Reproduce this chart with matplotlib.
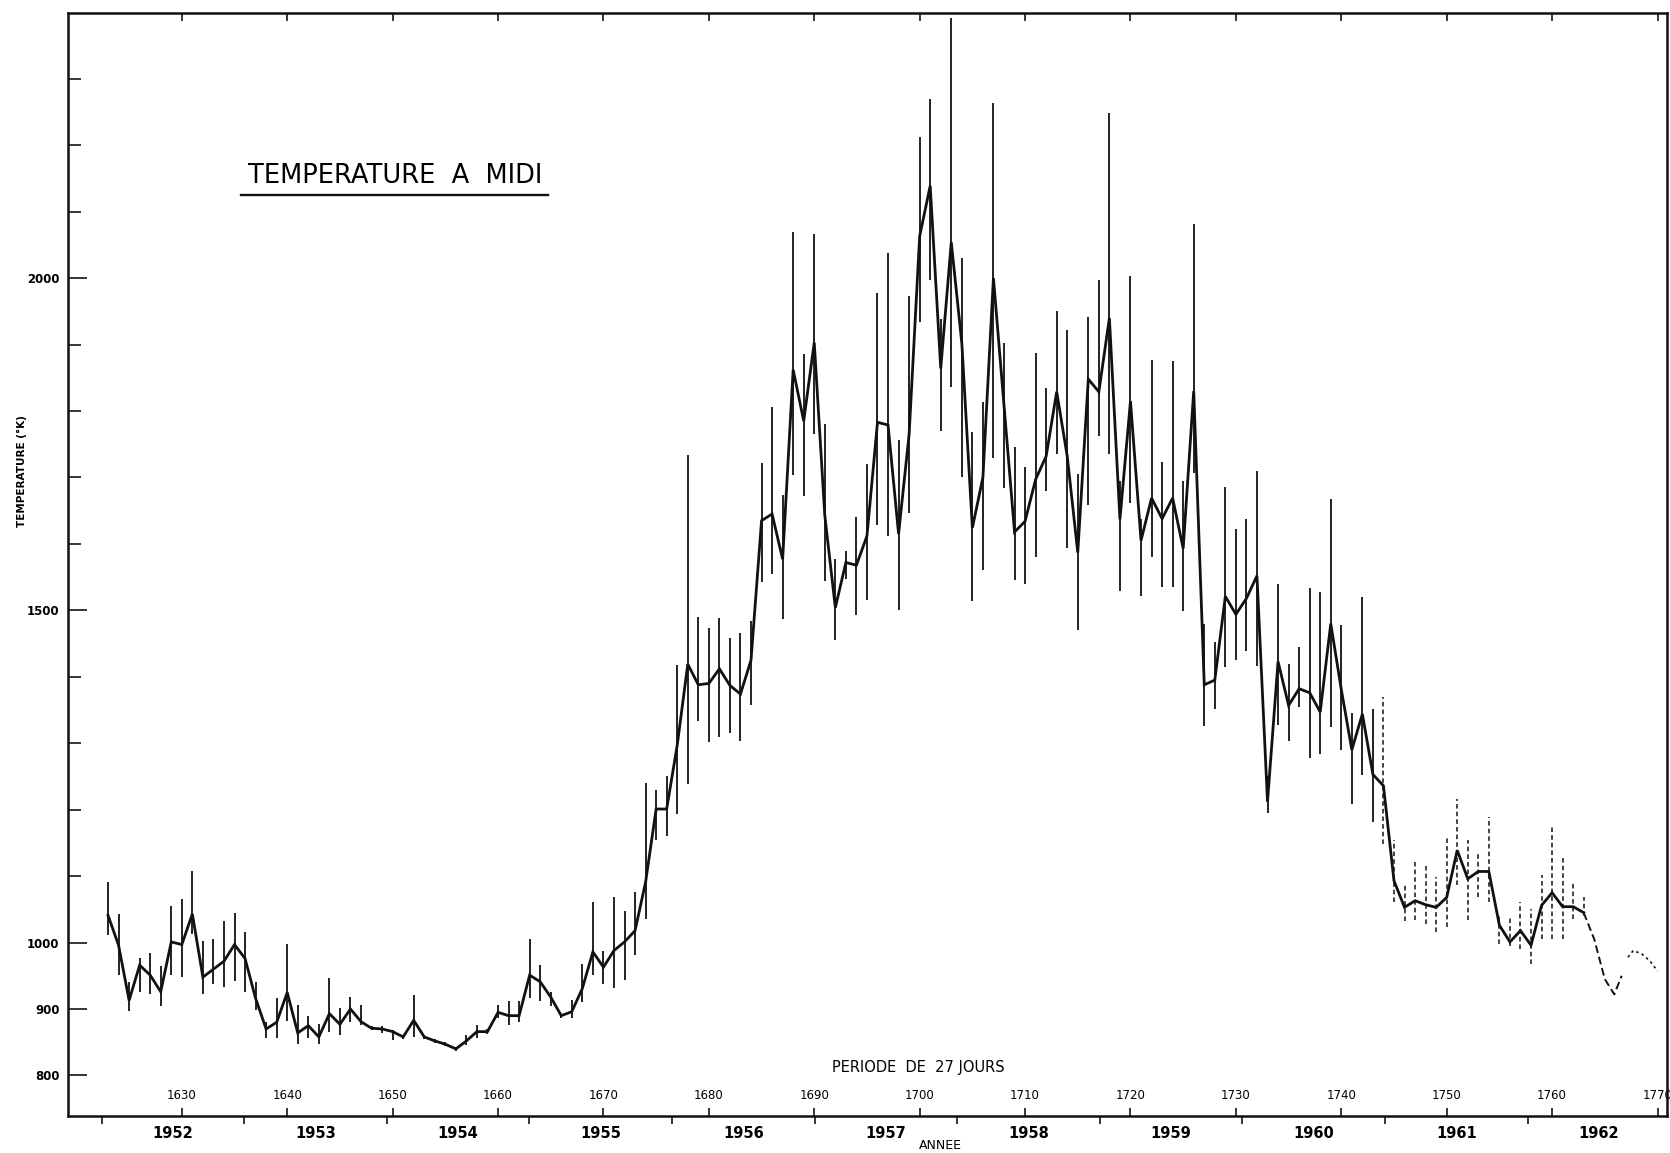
import datetime as dt
import matplotlib
matplotlib.use("Agg")
import matplotlib.pyplot as plt
from matplotlib.transforms import blended_transform_factory

# Bartels rotations (27-day periods) and midday temperature (K) with error bars
rotations = list(range(1623, 1764))
temp = [1041, 996, 913, 966, 951, 926, 1001, 997, 1043, 948,
        960, 972, 997, 976, 916, 870, 880, 925, 864, 875,
        858, 893, 877, 900, 881, 871, 870, 866, 858, 883,
        858, 852, 847, 840, 852, 866, 866, 895, 890, 890,
        951, 941, 918, 890, 896, 931, 986, 963, 988, 1001,
        1018, 1091, 1201, 1201, 1297, 1419, 1388, 1390, 1412, 1387,
        1374, 1425, 1635, 1645, 1577, 1862, 1785, 1903, 1643, 1504,
        1572, 1568, 1612, 1783, 1779, 1615, 1765, 2063, 2139, 1864,
        2054, 1902, 1624, 1700, 2000, 1810, 1618, 1634, 1697, 1732,
        1829, 1732, 1587, 1848, 1829, 1940, 1637, 1815, 1605, 1669,
        1638, 1669, 1593, 1830, 1388, 1395, 1521, 1494, 1518, 1552,
        1212, 1423, 1357, 1382, 1376, 1347, 1480, 1381, 1290, 1344,
        1253, 1236, 1093, 1053, 1063, 1057, 1053, 1068, 1139, 1096,
        1107, 1107, 1026, 1001, 1018, 996, 1056, 1075, 1054, 1054,
        1045]
low = [1011, 951, 897, 926, 922, 905, 951, 948, 1013, 922,
       937, 933, 942, 925, 898, 856, 856, 882, 848, 856,
       847, 866, 861, 881, 876, 868, 864, 853, 855, 858,
       855, 849, 844, 837, 846, 856, 862, 886, 876, 880,
       917, 912, 905, 887, 887, 910, 951, 938, 931, 943,
       981, 1036, 1155, 1160, 1194, 1239, 1333, 1302, 1310, 1315,
       1303, 1358, 1543, 1555, 1487, 1703, 1672, 1765, 1544, 1456,
       1547, 1493, 1516, 1629, 1612, 1501, 1647, 1934, 1997, 1770,
       1836, 1700, 1514, 1561, 1729, 1684, 1545, 1539, 1580, 1680,
       1735, 1594, 1470, 1659, 1763, 1735, 1529, 1662, 1522, 1581,
       1535, 1535, 1499, 1707, 1326, 1352, 1414, 1425, 1439, 1417,
       1195, 1328, 1303, 1354, 1278, 1284, 1325, 1290, 1209, 1252,
       1181, 1148, 1061, 1033, 1034, 1028, 1016, 1023, 1086, 1034,
       1068, 1061, 998, 995, 991, 968, 1006, 1006, 1006, 1036,
       1040]
high = [1091, 1043, 941, 977, 984, 964, 1055, 1066, 1108, 1003,
        1005, 1033, 1045, 1016, 941, 880, 916, 998, 906, 889,
        877, 947, 902, 918, 906, 874, 875, 869, 861, 921,
        861, 855, 850, 843, 861, 876, 870, 906, 912, 912,
        1006, 966, 926, 893, 913, 967, 1061, 988, 1068, 1048,
        1076, 1240, 1230, 1250, 1418, 1734, 1490, 1474, 1488, 1458,
        1466, 1484, 1722, 1806, 1674, 2070, 1886, 2066, 1780, 1578,
        1589, 1641, 1720, 1977, 2038, 1757, 1973, 2213, 2270, 1938,
        2392, 2030, 1768, 1814, 2264, 1903, 1746, 1716, 1888, 1834,
        1950, 1922, 1705, 1941, 1997, 2248, 1694, 2003, 1638, 1877,
        1723, 1875, 1694, 2081, 1480, 1453, 1686, 1623, 1638, 1710,
        1250, 1540, 1419, 1445, 1533, 1528, 1667, 1478, 1345, 1520,
        1351, 1369, 1154, 1086, 1126, 1118, 1099, 1160, 1216, 1154,
        1133, 1189, 1043, 1038, 1061, 1051, 1101, 1176, 1131, 1091,
        1068]
last_solid_bar = 1743

# provisional end of the curve
tail_rot = [1763, 1764, 1765, 1765.9, 1766.6]
tail_temp = [1045, 1005, 945, 922, 950]
dotted_rot = [1767.2, 1767.7, 1768.5, 1769.3, 1770.0]
dotted_temp = [978, 988, 983, 972, 957]

years = list(range(1952, 1963))
rot_ticks = list(range(1630, 1780, 10))
y_labeled = [800, 900, 1000, 1500, 2000]
y_minor = [v for v in range(1100, 2400, 100) if v not in y_labeled]


def rot_of(day):
    # position of a date on the rotation scale (rotation N centred on N)
    return 1 + (day - dt.date(1832, 2, 8)).days / 27 - 0.5


fig = plt.figure(figsize=(16.7, 11.53), dpi=100)
ax = fig.add_axes([0.0407, 0.0321, 0.9575, 0.9566])

ink = "#111111"
ax.plot(rotations, temp, color=ink, lw=2.0, solid_joinstyle="miter", zorder=3)
solid = [i for i, r in enumerate(rotations) if r <= last_solid_bar]
broken = [i for i, r in enumerate(rotations) if r > last_solid_bar]
ax.vlines([rotations[i] for i in solid], [low[i] for i in solid],
          [high[i] for i in solid], color=ink, lw=1.3, zorder=2)
ax.vlines([rotations[i] for i in broken], [low[i] for i in broken],
          [high[i] for i in broken], color=ink, lw=1.1,
          linestyles=(0, (3, 2)), zorder=2)
ax.plot(tail_rot, tail_temp, color=ink, lw=1.4, ls=(0, (4, 2)), zorder=3)
ax.plot(dotted_rot, dotted_temp, color=ink, lw=1.2, ls=(0, (1.5, 2)), zorder=3)

ax.set_xlim(1619.2, 1770.9)
ax.set_ylim(739, 2399)

for s in ax.spines.values():
    s.set_linewidth(1.8)
    s.set_color(ink)

# y axis
ax.set_yticks(y_labeled)
ax.set_yticklabels([str(v) for v in y_labeled], fontsize=8.5, fontweight="bold")
ax.set_yticks(y_minor, minor=True)
ax.tick_params(axis="y", which="major", direction="in", length=14, width=1.1, pad=6)
ax.tick_params(axis="y", which="minor", direction="in", length=9, width=1.1)

# x axis: year boundaries (out) and rotation marks (in, top and bottom)
year_starts = [rot_of(dt.date(y, 1, 1)) for y in years]
ax.set_xticks(year_starts)
ax.set_xticklabels([])
ax.set_xticks(rot_ticks, minor=True)
ax.tick_params(axis="x", which="major", direction="out", length=6, width=1.1,
               top=False)
ax.tick_params(axis="x", which="minor", direction="in", length=6, width=1.1,
               top=True, bottom=True)

tr = blended_transform_factory(ax.transData, ax.transAxes)
for y in years:
    mid = rot_of(dt.date(y, 7, 2))
    ax.text(mid, -0.016, str(y), transform=tr, ha="center", va="center",
            fontsize=10.5, fontweight="bold", clip_on=False)
for r in rot_ticks:
    ax.text(r, 0.019, str(r), transform=tr, ha="center", va="center",
            fontsize=8.5, clip_on=False)

ax.text(0.5316, 0.044, "PERIODE  DE  27 JOURS", transform=ax.transAxes,
        ha="center", va="center", fontsize=10.5)
ax.text(0.5458, -0.027, "ANNEE", transform=ax.transAxes, ha="center",
        va="center", fontsize=9, clip_on=False)
ax.text(-0.0285, 0.585, "TEMPERATURE (°K)", transform=ax.transAxes,
        rotation=90, ha="center", va="center", fontsize=7.5,
        fontweight="bold", clip_on=False)

ax.text(0.2045, 0.852, "TEMPERATURE  A  MIDI", transform=ax.transAxes,
        ha="center", va="center", fontsize=18.5)
ax.plot([0.1085, 0.3005], [0.835, 0.835], transform=ax.transAxes, color=ink,
        lw=1.7)

fig.savefig("out.png", dpi=100, facecolor="white")
